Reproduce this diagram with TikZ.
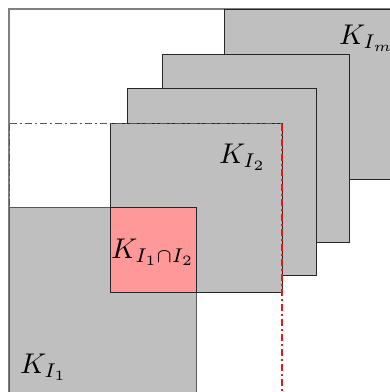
\documentclass[tikz,border=0pt]{standalone}
\usepackage{graphicx}
\newcommand{\biglbl}[1]{\scalebox{2.85}{#1}}
\definecolor{dashred}{RGB}{240,20,20}
\begin{document}
\begin{tikzpicture}[x=1pt,y=-1pt,
	sqbox/.style={fill=lightgray, draw=black!85, line width=0.8pt},
	redline/.style={draw=dashred, line width=1.2pt, dash pattern=on 7pt off 3pt on 2pt off 3pt},
	lbl/.style={anchor=base west, inner sep=0pt}]
		\useasboundingbox (0,0) rectangle (390,392);
		\clip (0,0) rectangle (390,392);

		\draw [gray, line width=1.2pt] (9,420) -- (9,9) -- (420,9);

		\filldraw [sqbox] (224,9) rectangle (420,179);
		\filldraw [sqbox] (162,54) rectangle (349,242);
		\filldraw [sqbox] (127,88) rectangle (316,275);
		\filldraw [sqbox] (110,123) rectangle (282,292);
		\filldraw [sqbox, draw=black!65] (9,207) rectangle (196,420);
		\filldraw [fill=red!40, draw=black!85, line width=0.8pt] (110,207) rectangle (196,292);

		\draw [redline] (9.5,123.5) -- (282,123.5);
		\draw [redline] (9.5,123.5) -- (9.5,400);
		\draw [redline] (282,123.5) -- (282,400);

		\node [lbl] (km) at (339,44) {\biglbl{$K_{I_m}$}};
		\node [lbl] (k2) at (219,163) {\biglbl{$K_{I_2}$}};
		\node [lbl] (k12) at (111,258) {\biglbl{$K_{I_1\cap I_2}$}};
		\node [lbl] (k1) at (20,373) {\biglbl{$K_{I_1}$}};

		\end{tikzpicture}
\end{document}
